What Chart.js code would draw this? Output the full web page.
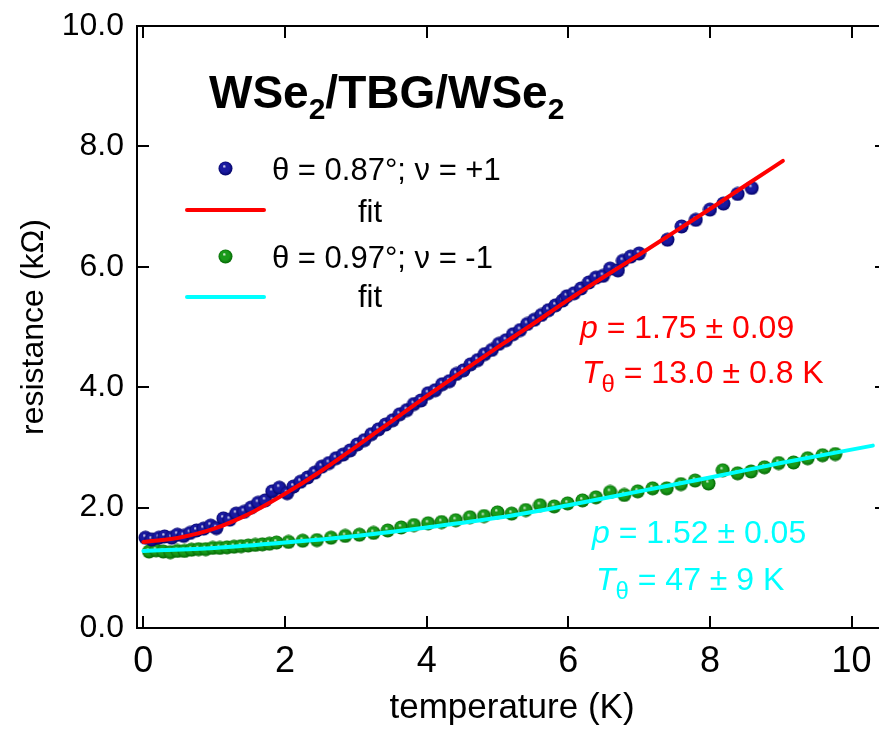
<!DOCTYPE html>
<html>
<head>
<meta charset="utf-8">
<script src="https://cdn.jsdelivr.net/npm/chart.js@4.4.1/dist/chart.umd.min.js"></script>
<style>
  html, body { margin: 0; padding: 0; background: #fff; overflow: hidden; }
  canvas { display: block; }
</style>
</head>
<body>
<canvas id="chart" width="900" height="733"></canvas>
<script>
// data
const blueT = [0.03,0.12,0.22,0.30,0.40,0.48,0.57,0.66,0.75,0.85,
  0.95,1.03,1.13,1.22,1.31,1.42,1.52,1.62,1.72,1.82,
  1.92,2.03,2.12,2.22,2.32,2.42,2.52,2.62,2.72,2.82,
  2.92,3.02,3.12,3.22,3.32,3.42,3.52,3.62,3.72,3.82,
  3.92,4.02,4.12,4.22,4.32,4.42,4.52,4.62,4.72,4.82,
  4.92,5.02,5.12,5.22,5.32,5.42,5.52,5.62,5.72,5.82,
  5.92,5.98,6.08,6.18,6.29,6.39,6.49,6.59,6.70,6.77,
  6.88,7.00,7.40,7.60,7.80,8.00,8.19,8.39,8.59];
const blueR = [1.50,1.47,1.50,1.52,1.50,1.55,1.53,1.58,1.62,1.65,
  1.70,1.66,1.82,1.80,1.90,1.93,2.00,2.08,2.12,2.27,
  2.33,2.24,2.35,2.43,2.50,2.58,2.68,2.74,2.82,2.88,
  2.95,3.05,3.12,3.22,3.30,3.38,3.45,3.55,3.62,3.72,
  3.78,3.90,3.95,4.05,4.10,4.22,4.28,4.38,4.45,4.55,
  4.62,4.72,4.78,4.88,4.95,5.05,5.12,5.20,5.28,5.36,
  5.44,5.51,5.56,5.64,5.74,5.82,5.85,5.97,5.94,6.10,
  6.17,6.22,6.45,6.67,6.78,6.95,7.05,7.21,7.31];

const greenT = [0.08,0.18,0.28,0.38,0.48,0.58,0.68,0.78,0.88,0.98,
  1.08,1.18,1.28,1.38,1.48,1.58,1.68,1.78,1.88,
  2.05,2.25,2.45,2.65,2.85,3.05,3.25,3.45,3.64,
  3.82,4.02,4.21,4.41,4.61,4.81,5.00,5.20,5.40,5.60,
  5.80,5.99,6.20,6.39,6.59,6.79,6.98,7.19,7.39,7.59,
  7.79,7.98,8.18,8.39,8.58,8.77,8.97,9.18,9.38,9.59,
  9.77];
const greenR = [1.27,1.29,1.27,1.26,1.28,1.28,1.30,1.31,1.31,1.33,
  1.33,1.34,1.35,1.36,1.37,1.38,1.39,1.40,1.42,
  1.43,1.45,1.46,1.50,1.53,1.55,1.58,1.62,1.67,
  1.71,1.74,1.76,1.79,1.84,1.86,1.92,1.90,1.96,2.04,
  2.02,2.07,2.12,2.17,2.26,2.21,2.27,2.32,2.32,2.39,
  2.45,2.40,2.62,2.57,2.60,2.67,2.74,2.75,2.82,2.87,
  2.89];

const redFitT = [0,0.5,1,1.5,2,2.5,3,3.5,4,4.5,5,5.5,6,6.5,7,7.5,8,8.5,9.03];
const redFitR = [1.43,1.50,1.65,1.90,2.23,2.60,3.01,3.43,3.85,4.26,4.66,5.05,5.45,5.83,6.20,6.58,6.96,7.35,7.76];

const cyanFitT = [0,1,2,3,4,5,6,7,8,9,10.3];
const cyanFitR = [1.28,1.33,1.42,1.53,1.67,1.83,2.04,2.27,2.50,2.74,3.03];

const xTicks = [0,2,4,6,8,10];
const yTicks = [0,2,4,6,8,10];

const FONT = "'Liberation Sans', Arial, sans-serif";

function pts(xs, ys) {
  return xs.map((x, i) => ({ x: x, y: ys[i] }));
}

// shaded ball marker
function makeBall(color, dark) {
  const c = document.createElement('canvas');
  c.width = 15; c.height = 15;
  const g = c.getContext('2d');
  const grad = g.createRadialGradient(6, 5, 0, 7.5, 7.5, 7.5);
  grad.addColorStop(0, '#ffffff');
  grad.addColorStop(0.25, color);
  grad.addColorStop(0.6, color);
  grad.addColorStop(1, dark);
  g.fillStyle = grad;
  g.beginPath();
  g.arc(7.5, 7.5, 7, 0, Math.PI * 2);
  g.fill();
  return c;
}
const blueBall = makeBall('#1a1aa0', '#000060');
const greenBall = makeBall('#1a9a1a', '#006000');

// draw a run of text pieces with different fonts / offsets
function drawRich(ctx, parts, x, y, color) {
  ctx.fillStyle = color;
  ctx.textBaseline = 'alphabetic';
  ctx.textAlign = 'left';
  parts.forEach(p => {
    ctx.font = p.font;
    ctx.fillText(p.text, x, y + (p.dy || 0));
    x += ctx.measureText(p.text).width;
  });
}

const framePlugin = {
  id: 'frame',
  afterDatasetsDraw(chart) {
    const ctx = chart.ctx;
    const a = chart.chartArea;
    const xs = chart.scales.x, ys = chart.scales.y;
    ctx.save();
    ctx.strokeStyle = '#000';
    ctx.lineWidth = 2;
    ctx.strokeRect(a.left, a.top, a.right - a.left, a.bottom - a.top);
    ctx.beginPath();
    xTicks.forEach(v => {
      const px = Math.round(xs.getPixelForValue(v));
      ctx.moveTo(px, a.bottom); ctx.lineTo(px, a.bottom - 12);
      ctx.moveTo(px, a.top); ctx.lineTo(px, a.top + 12);
    });
    yTicks.forEach(v => {
      const py = Math.round(ys.getPixelForValue(v));
      ctx.moveTo(a.left, py); ctx.lineTo(a.left + 12, py);
      ctx.moveTo(a.right, py); ctx.lineTo(a.right - 12, py);
    });
    ctx.stroke();

    // title
    const big = 'bold 46px ' + FONT, sub = 'bold 30px ' + FONT;
    drawRich(ctx, [
      { text: 'WSe', font: big }, { text: '2', font: sub, dy: 11 },
      { text: '/TBG/WSe', font: big }, { text: '2', font: sub, dy: 11 }
    ], 209, 108, '#000');

    // legend
    ctx.drawImage(blueBall, 218, 161);
    ctx.drawImage(greenBall, 218, 249);
    ctx.lineCap = 'round';
    ctx.lineWidth = 4;
    ctx.strokeStyle = '#ff0000';
    ctx.beginPath(); ctx.moveTo(187, 210); ctx.lineTo(264, 210); ctx.stroke();
    ctx.strokeStyle = '#00ffff';
    ctx.beginPath(); ctx.moveTo(187, 297); ctx.lineTo(264, 297); ctx.stroke();
    const lf = '31px ' + FONT;
    drawRich(ctx, [{ text: 'θ = 0.87°; ν = +1', font: lf }], 272, 180, '#000');
    drawRich(ctx, [{ text: 'fit', font: lf }], 358, 222, '#000');
    drawRich(ctx, [{ text: 'θ = 0.97°; ν = -1', font: lf }], 272, 268, '#000');
    drawRich(ctx, [{ text: 'fit', font: lf }], 358, 307, '#000');

    // fit parameters
    const af = '32px ' + FONT, ai = 'italic 32px ' + FONT, as = '24px ' + FONT;
    drawRich(ctx, [{ text: 'p', font: ai }, { text: ' = 1.75 ± 0.09', font: af }], 580, 338, '#ff0000');
    drawRich(ctx, [{ text: 'T', font: ai }, { text: 'θ', font: as, dy: 9 }, { text: ' = 13.0 ± 0.8 K', font: af }], 582, 383, '#ff0000');
    drawRich(ctx, [{ text: 'p', font: ai }, { text: ' = 1.52 ± 0.05', font: af }], 592, 543, '#00ffff');
    drawRich(ctx, [{ text: 'T', font: ai }, { text: 'θ', font: as, dy: 9 }, { text: ' = 47 ± 9 K', font: af }], 596, 590, '#00ffff');
    ctx.restore();
  }
};

new Chart(document.getElementById('chart'), {
  type: 'scatter',
  data: {
    datasets: [
      {
        label: 'fit (θ = 0.87°)',
        data: pts(redFitT, redFitR),
        showLine: true, borderColor: '#ff0000', borderWidth: 4,
        borderCapStyle: 'round', pointRadius: 0, cubicInterpolationMode: 'monotone',
        order: 1
      },
      {
        label: 'fit (θ = 0.97°)',
        data: pts(cyanFitT, cyanFitR),
        showLine: true, borderColor: '#00ffff', borderWidth: 4,
        borderCapStyle: 'round', pointRadius: 0, cubicInterpolationMode: 'monotone',
        order: 1
      },
      {
        label: 'θ = 0.87°; ν = +1',
        data: pts(blueT, blueR),
        pointStyle: blueBall, pointRadius: 7,
        order: 2
      },
      {
        label: 'θ = 0.97°; ν = -1',
        data: pts(greenT, greenR),
        pointStyle: greenBall, pointRadius: 7,
        order: 2
      }
    ]
  },
  options: {
    responsive: false,
    animation: false,
    layout: { padding: { top: 26, right: 13, left: 0, bottom: 0 } },
    plugins: { legend: { display: false }, tooltip: { enabled: false } },
    scales: {
      x: {
        type: 'linear', min: -0.09, max: 10.5,
        afterBuildTicks: s => { s.ticks = xTicks.map(v => ({ value: v })); },
        afterFit: s => { s.height = 105; s.paddingLeft = 0; s.paddingRight = 0; },
        grid: { display: false, drawTicks: false },
        border: { display: false },
        ticks: { color: '#000', padding: 12, font: { family: "'Liberation Sans Narrow', " + FONT, size: 36 } },
        title: { display: true, text: 'temperature (K)', color: '#000', padding: { top: 0, bottom: 4 },
          font: { family: FONT, size: 35 } }
      },
      y: {
        type: 'linear', min: 0, max: 10,
        afterBuildTicks: s => { s.ticks = yTicks.map(v => ({ value: v })); },
        afterFit: s => { s.width = 137; s.paddingTop = 0; s.paddingBottom = 0; },
        grid: { display: false, drawTicks: false },
        border: { display: false },
        ticks: { color: '#000', padding: 13, font: { family: FONT, size: 32 },
          callback: v => v.toFixed(1) },
        title: { display: true, text: 'resistance (kΩ)', color: '#000', padding: { top: 15, bottom: 0 },
          font: { family: FONT, size: 32 } }
      }
    }
  },
  plugins: [framePlugin]
});
</script>
</body>
</html>
